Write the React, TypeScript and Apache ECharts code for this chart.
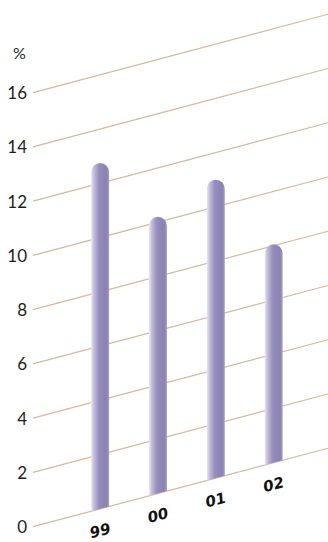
import React, { useEffect, useRef } from "react";
import * as echarts from "echarts";

const categories = ["99", "00", "01", "02"];
const values = [12.75, 10.2, 11.0, 8.05];
const yTicks = [0, 2, 4, 6, 8, 10, 12, 14, 16];

const X_MIN = -1.16;
const X_MAX = 3.94;
const SLOPE = 0.266; // pixel rise per pixel to the right
const BAR_W = 18;

export default function App() {
  const ref = useRef<HTMLDivElement>(null);
  useEffect(() => {
    if (!ref.current) return;
    const chart = echarts.init(ref.current, undefined, { renderer: "svg" });

    const skew = (api: any, p: number[]) => {
      const left = api.coord([X_MIN, 0])[0];
      return p[1] - SLOPE * (p[0] - left);
    };

    const gridSeries: any = {
      type: "custom",
      clip: false,
      silent: true,
      z: 1,
      data: yTicks.map((v) => [v]),
      renderItem: (params: any, api: any) => {
        const v = api.value(0);
        const a = api.coord([X_MIN, v]);
        const b = api.coord([X_MAX, v]);
        return {
          type: "line",
          shape: { x1: a[0], y1: skew(api, a), x2: b[0], y2: skew(api, b) },
          style: { stroke: "#d8b79f", lineWidth: 1.2 },
        };
      },
    };

    const barSeries: any = {
      type: "custom",
      clip: false,
      silent: true,
      z: 2,
      data: values.map((v, i) => [i, v]),
      renderItem: (params: any, api: any) => {
        const i = api.value(0);
        const v = api.value(1);
        const c = api.coord([i, v]);
        const base = api.coord([i, 0]);
        const cx = c[0];
        const top = skew(api, c);
        const l = cx - BAR_W / 2;
        const r = cx + BAR_W / 2;
        const r0 = BAR_W / 2;
        const bl = skew(api, [l, base[1]]);
        const br = skew(api, [r, base[1]]);
        const baseMid = skew(api, [cx, base[1]]);
        const d = `M${l},${bl} L${l},${top + r0} A${r0},${r0} 0 0 1 ${r},${top + r0} L${r},${br} Z`;
        return {
          type: "group",
          children: [
            {
              type: "path",
              shape: { pathData: d },
              style: {
                fill: new echarts.graphic.LinearGradient(0, 0, 1, 0, [
                  { offset: 0, color: "#eceaf3" },
                  { offset: 0.15, color: "#c4bedb" },
                  { offset: 0.45, color: "#958dbb" },
                  { offset: 0.85, color: "#8a82b2" },
                  { offset: 1, color: "#a49ec4" },
                ]),
              },
            },
            {
              type: "text",
              x: cx,
              y: baseMid + 22,
              rotation: Math.atan(SLOPE),
              style: {
                text: categories[i],
                fill: "#111111",
                font: "italic bold 15px 'DejaVu Sans'",
                align: "center",
                verticalAlign: "middle",
              },
            },
          ],
        };
      },
    };

    chart.setOption({
      animation: false,
      grid: { left: 33, right: 0, top: 92.7, bottom: 15.3 },
      xAxis: { type: "value", min: X_MIN, max: X_MAX, show: false },
      yAxis: {
        type: "value",
        min: 0,
        max: 16,
        interval: 2,
        axisLine: { show: false },
        axisTick: { show: false },
        splitLine: { show: false },
        axisLabel: {
          margin: 6,
          color: "#1e1e1e",
          fontSize: 17,
          fontFamily: "Lato",
        },
      },
      graphic: [
        {
          type: "text",
          left: 13,
          top: 44,
          style: { text: "%", fill: "#1e1e1e", font: "16px Lato" },
        },
      ],
      series: [gridSeries, barSeries],
    });
    return () => chart.dispose();
  }, []);
  return (
    <div
      ref={ref}
      style={{ position: "absolute", left: 0, top: 0, width: 328, height: 542 }}
    />
  );
}
